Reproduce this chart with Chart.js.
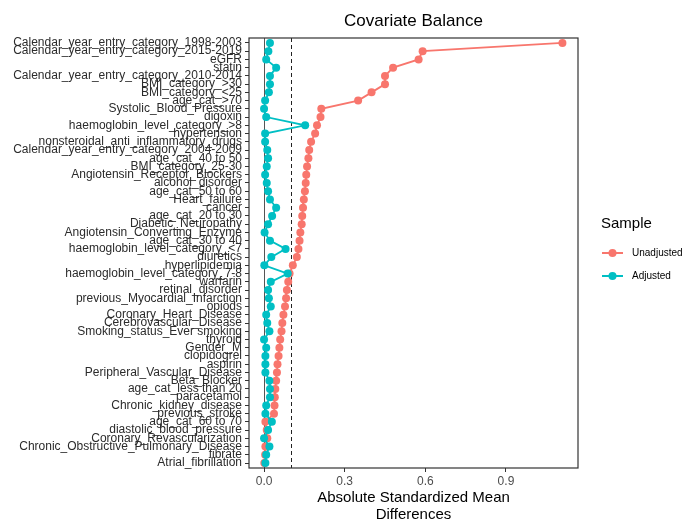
<!DOCTYPE html>
<html lang="en">
<head>
<meta charset="UTF-8">
<title>Covariate Balance</title>
<script src="https://cdn.jsdelivr.net/npm/chart.js"></script>
<style>
  body { margin: 0; background: #fff; }
  #wrap { width: 694px; height: 520px; }
</style>
</head>
<body>
<div id="wrap"><canvas id="chart" width="694" height="520"></canvas></div>
<script>
// covariates, top to bottom
const covariates = [
  'Calendar_year_entry_category_1998-2003',
  'Calendar_year_entry_category_2015-2019',
  'eGFR',
  'statin',
  'Calendar_year_entry_category_2010-2014',
  'BMI_category_>30',
  'BMI_category_<25',
  'age_cat_>70',
  'Systolic_Blood_Pressure',
  'digoxin',
  'haemoglobin_level_category_>8',
  'hypertension',
  'nonsteroidal_anti_inflammatory_drugs',
  'Calendar_year_entry_category_2004-2009',
  'age_cat_40 to 50',
  'BMI_category_25-30',
  'Angiotensin_Receptor_Blockers',
  'alcohol_disorder',
  'age_cat_50 to 60',
  'Heart_failure',
  'cancer',
  'age_cat_20 to 30',
  'Diabetic_Neuropathy',
  'Angiotensin_Converting_Enzyme',
  'age_cat_30 to 40',
  'haemoglobin_level_category_<7',
  'diuretics',
  'hyperlipidemia',
  'haemoglobin_level_category_7-8',
  'warfarin',
  'retinal_disorder',
  'previous_Myocardial_Infarction',
  'opiods',
  'Coronary_Heart_Disease',
  'Cerebrovascular_Disease',
  'Smoking_status_Ever smoking',
  'thyroid',
  'Gender_M',
  'clopidogrel',
  'aspirin',
  'Peripheral_Vascular_Disease',
  'Beta_Blocker',
  'age_cat_less than 20',
  'paracetamol',
  'Chronic_kidney_disease',
  'previous_stroke',
  'age_cat_60 to 70',
  'diastolic_blood_pressure',
  'Coronary_Revascularization',
  'Chronic_Obstructive_Pulmonary_Disease',
  'fibrate',
  'Atrial_fibrillation'
];

const unadjusted = [
  1.11, 0.59, 0.575, 0.48, 0.45, 0.45, 0.40, 0.35, 0.213, 0.21,
  0.197, 0.19, 0.175, 0.168, 0.165, 0.16, 0.157, 0.155, 0.152, 0.148,
  0.145, 0.142, 0.14, 0.135, 0.132, 0.128, 0.122, 0.107, 0.095, 0.09,
  0.085, 0.082, 0.078, 0.072, 0.068, 0.065, 0.06, 0.057, 0.054, 0.05,
  0.048, 0.045, 0.042, 0.04, 0.039, 0.037, 0.005, 0.01, 0.012, 0.005,
  0.004, 0.001
];

const adjusted = [
  0.022, 0.016, 0.008, 0.045, 0.022, 0.022, 0.018, 0.004, 0.0, 0.008,
  0.153, 0.004, 0.004, 0.012, 0.015, 0.01, 0.004, 0.01, 0.015, 0.022,
  0.045, 0.03, 0.015, 0.002, 0.022, 0.08, 0.027, 0.001, 0.088, 0.025,
  0.015, 0.018, 0.025, 0.008, 0.012, 0.02, 0.0, 0.008, 0.005, 0.005,
  0.005, 0.02, 0.022, 0.022, 0.008, 0.005, 0.029, 0.015, 0.0, 0.02,
  0.008, 0.005
];

const xTicks = [0.0, 0.3, 0.6, 0.9];
const threshold = 0.1;

const RED = '#F8766D';
const CYAN = '#00BFC4';
const FONT = "'Liberation Sans', Arial, sans-serif";

function toPoints(values) {
  return values.map((v, i) => ({ x: v, y: i }));
}

// reference lines, panel border, title and legend
const extras = {
  id: 'extras',
  beforeDatasetsDraw(chart) {
    const { ctx, chartArea: a, scales: { x } } = chart;
    ctx.save();
    // zero line
    ctx.strokeStyle = '#555';
    ctx.lineWidth = 1;
    const x0 = Math.round(x.getPixelForValue(0)) + 0.5;
    ctx.beginPath(); ctx.moveTo(x0, a.top); ctx.lineTo(x0, a.bottom); ctx.stroke();
    // threshold line
    ctx.strokeStyle = '#222';
    ctx.setLineDash([4, 3]);
    const x1 = Math.round(x.getPixelForValue(threshold)) + 0.5;
    ctx.beginPath(); ctx.moveTo(x1, a.top); ctx.lineTo(x1, a.bottom); ctx.stroke();
    ctx.restore();
  },
  afterDraw(chart) {
    const { ctx, chartArea: a } = chart;
    ctx.save();
    ctx.strokeStyle = '#333';
    ctx.lineWidth = 1.2;
    ctx.strokeRect(a.left, a.top, a.right - a.left, a.bottom - a.top);

    // title
    ctx.fillStyle = '#000';
    ctx.font = '17px ' + FONT;
    ctx.textAlign = 'center';
    ctx.textBaseline = 'middle';
    ctx.fillText('Covariate Balance', (a.left + a.right) / 2, 21);

    // legend
    ctx.textAlign = 'left';
    ctx.font = '15px ' + FONT;
    ctx.fillText('Sample', 601, 224);
    const items = [['Unadjusted', RED, 253], ['Adjusted', CYAN, 276]];
    ctx.font = '10px ' + FONT;
    items.forEach(([name, col, y]) => {
      ctx.strokeStyle = col;
      ctx.lineWidth = 2;
      ctx.beginPath(); ctx.moveTo(602, y); ctx.lineTo(623, y); ctx.stroke();
      ctx.fillStyle = col;
      ctx.beginPath(); ctx.arc(612.5, y, 4, 0, Math.PI * 2); ctx.fill();
      ctx.fillStyle = '#000';
      ctx.fillText(name, 632, y);
    });
    ctx.restore();
  }
};

new Chart(document.getElementById('chart'), {
  type: 'scatter',
  data: {
    datasets: [
      {
        label: 'Adjusted',
        data: toPoints(adjusted),
        showLine: true,
        borderColor: CYAN,
        backgroundColor: CYAN,
        borderWidth: 1.8,
        pointRadius: 4,
        pointBorderWidth: 0,
        order: 1
      },
      {
        label: 'Unadjusted',
        data: toPoints(unadjusted),
        showLine: true,
        borderColor: RED,
        backgroundColor: RED,
        borderWidth: 1.8,
        pointRadius: 4,
        pointBorderWidth: 0,
        order: 2
      }
    ]
  },
  options: {
    responsive: false,
    animation: false,
    layout: { padding: { top: 38, right: 116, bottom: 0, left: 0 } },
    plugins: {
      legend: { display: false },
      tooltip: { enabled: false },
      title: { display: false }
    },
    scales: {
      x: {
        type: 'linear',
        min: -0.056,
        max: 1.168,
        afterBuildTicks: s => { s.ticks = xTicks.map(v => ({ value: v })); },
        afterFit: s => { s.height = 52; },
        border: { display: false },
        grid: { drawOnChartArea: false, drawTicks: true, tickLength: 4, color: '#333' },
        ticks: {
          padding: 2,
          color: '#4d4d4d',
          font: { family: FONT, size: 12 },
          callback: v => v.toFixed(1)
        },
        title: {
          display: true,
          text: ['Absolute Standardized Mean', 'Differences'],
          color: '#000',
          font: { family: FONT, size: 15, lineHeight: 1.13 },
          padding: { top: 0, bottom: -3 }
        }
      },
      y: {
        type: 'linear',
        reverse: true,
        min: -0.6,
        max: covariates.length - 0.4,
        afterBuildTicks: s => { s.ticks = covariates.map((_, i) => ({ value: i })); },
        afterFit: s => { s.width = 249; },
        border: { display: false },
        grid: { drawOnChartArea: false, drawTicks: true, tickLength: 4, color: '#333' },
        ticks: {
          autoSkip: false,
          padding: 3,
          color: '#2b2b2b',
          font: { family: FONT, size: 12 },
          callback: v => covariates[v]
        }
      }
    }
  },
  plugins: [extras]
});
</script>
</body>
</html>
